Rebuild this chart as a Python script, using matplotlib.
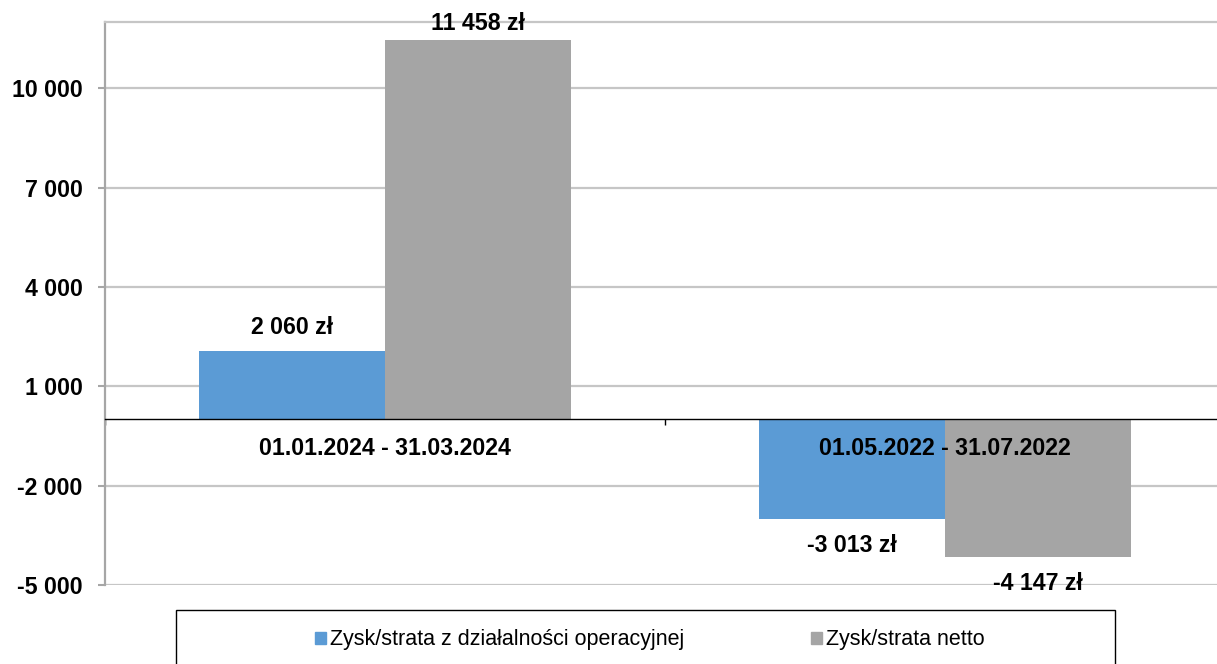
import matplotlib
matplotlib.use('Agg')
import matplotlib.pyplot as plt
import matplotlib.patches as mpatches
from matplotlib.ticker import FuncFormatter
import numpy as np

plt.rcParams['font.family'] = ['Liberation Sans', 'DejaVu Sans']

periods = ['01.01.2024 - 31.03.2024', '01.05.2022 - 31.07.2022']
operating = [2060, -3013]
net = [11458, -4147]
series_names = ['Zysk/strata z działalności operacyjnej', 'Zysk/strata netto']
colors = ['#5B9BD5', '#A5A5A5']
yticks = [-5000, -2000, 1000, 4000, 7000, 10000]

W, H = 1217, 664
YMIN, YMAX = -5000, 12000
fig = plt.figure(figsize=(W / 100, H / 100), dpi=100)
ax = fig.add_axes([105 / W, 79 / H, 1120 / W, 563 / H])
ax.set_axisbelow(True)
ax.set_xlim(-0.5, 1.5)
ax.set_ylim(YMIN, YMAX)

x = np.arange(len(periods))
bw = 0.332
for vals, off, c in [(operating, -bw / 2, colors[0]), (net, bw / 2, colors[1])]:
    bars = ax.bar(x + off, vals, width=bw, color=c, zorder=2)
    for b, v in zip(bars, vals):
        lab = '{:,}'.format(v).replace(',', ' ') + ' zł'
        xc = b.get_x() + b.get_width() / 2
        if v >= 0:
            # keep the label inside the plot area like excel does
            ylab = min(v + 730, YMAX - 60)
        else:
            ylab = v - 800
        ax.text(xc, ylab, lab, ha='center', va='center',
                fontsize=16.7, fontweight='bold', zorder=5)

# category labels sit below the zero line, drawn over the bars
for i, p in enumerate(periods):
    ax.annotate(p, (i, 0), xytext=(0, -21), textcoords='offset points',
                ha='center', va='center', fontsize=16.7, fontweight='bold', zorder=5)

ax.set_yticks(yticks)
ax.yaxis.set_major_formatter(FuncFormatter(lambda v, p: '{:,}'.format(int(v)).replace(',', ' ')))
ax.set_xticks([-0.5, 0.5, 1.5])
ax.set_xticklabels([])
ax.tick_params(axis='x', direction='out', length=4.5, width=1, color='black')
ax.tick_params(axis='y', direction='out', length=5, width=1.5, color='#A6A6A6', pad=11,
               labelsize=16.7)
for t in ax.get_yticklabels():
    t.set_fontweight('bold')

ax.yaxis.grid(True, color='#C6C6C6', linewidth=1.6)
ax.spines['right'].set_visible(False)
ax.spines['top'].set_color('#C6C6C6')
ax.spines['top'].set_linewidth(1.6)
ax.spines['left'].set_color('#A6A6A6')
ax.spines['left'].set_linewidth(1.6)
ax.spines['bottom'].set_position(('data', 0))
ax.spines['bottom'].set_color('black')
ax.spines['bottom'].set_linewidth(1)

# legend frame is wider than its contents, so draw it separately
frame = mpatches.Rectangle((176 / W, -0.05), (1115 - 176) / W, 0.05 + (H - 610) / H,
                           transform=fig.transFigure, fill=False, edgecolor='black',
                           linewidth=1)
fig.patches.append(frame)
handles = [mpatches.Patch(color=c) for c in colors]
fig.legend(handles, series_names, loc='center', bbox_to_anchor=(650 / W, 1 - 640 / H),
           ncol=2, frameon=False, fontsize=15.5, handlelength=0.5, handleheight=0.5,
           handletextpad=0.2, columnspacing=5.9)

fig.savefig('out.png', dpi=100)
